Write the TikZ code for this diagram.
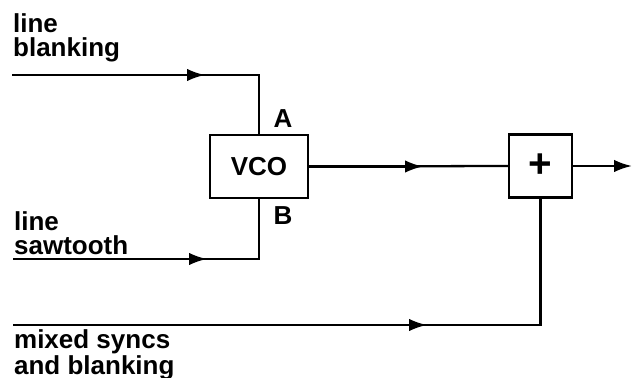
\documentclass[tikz,border=0pt]{standalone}
\usepackage{fontspec}
\setmainfont{Liberation Sans}
\usetikzlibrary{arrows.meta}

\begin{document}
\begin{tikzpicture}[x=0.02cm, y=-0.02cm, line width=1.3pt,
    >={Latex[length=0.36cm,width=0.25cm]},
    every node/.style={font=\bfseries\fontsize{14.8}{13.6}\selectfont},
    blk/.style={draw, inner sep=0pt},
    lbl/.style={align=left, anchor=north west, inner sep=0pt}]

    \useasboundingbox (0,0) rectangle (632,378);

    %blocs
    \node[blk, minimum width=1.96cm, minimum height=1.26cm] (vco) at (259,166.5) {VCO};
    \node[blk, minimum size=1.26cm, font=\bfseries\fontsize{23}{24}\selectfont] (sum) at (540.5,166) {+};
    \node[anchor=base] (pa) at (283,128) {A};
    \node[anchor=base] (pb) at (283,225) {B};

    %textes
    \node[lbl] (tblank) at (12,13) {line\\blanking};
    \node[lbl] (tsaw) at (13,211) {line\\sawtooth};
    \node[lbl] (tsync) at (13,329) {mixed syncs\\and blanking};

    %entree A
    \coordinate (sa) at (12,75);
    \coordinate (ma) at (205,75);
    \coordinate (ca) at (vco.north |- sa);
    \draw (sa) -- (ca) -- (vco.north);
    \draw[->] (sa) -- (ma);

    %entree B
    \coordinate (sb) at (13,259);
    \coordinate (mb) at (207,259);
    \coordinate (cb) at (vco.south |- sb);
    \draw (sb) -- (cb) -- (vco.south);
    \draw[->] (sb) -- (mb);

    %vco -> somme
    \coordinate (mv) at (423,166);
    \draw (vco.east) -- (sum.west);
    \draw[->] (vco.east) -- (mv |- vco.east);

    %syncs
    \coordinate (ss) at (13,325);
    \coordinate (ms) at (427,325);
    \coordinate (cs) at (sum.south |- ss);
    \draw (ss) -- (cs) -- (sum.south);
    \draw[->] (ss) -- (ms);

    %sortie
    \coordinate (so) at (632,166);
    \draw[->] (sum.east) -- (so);

\end{tikzpicture}
\end{document}
